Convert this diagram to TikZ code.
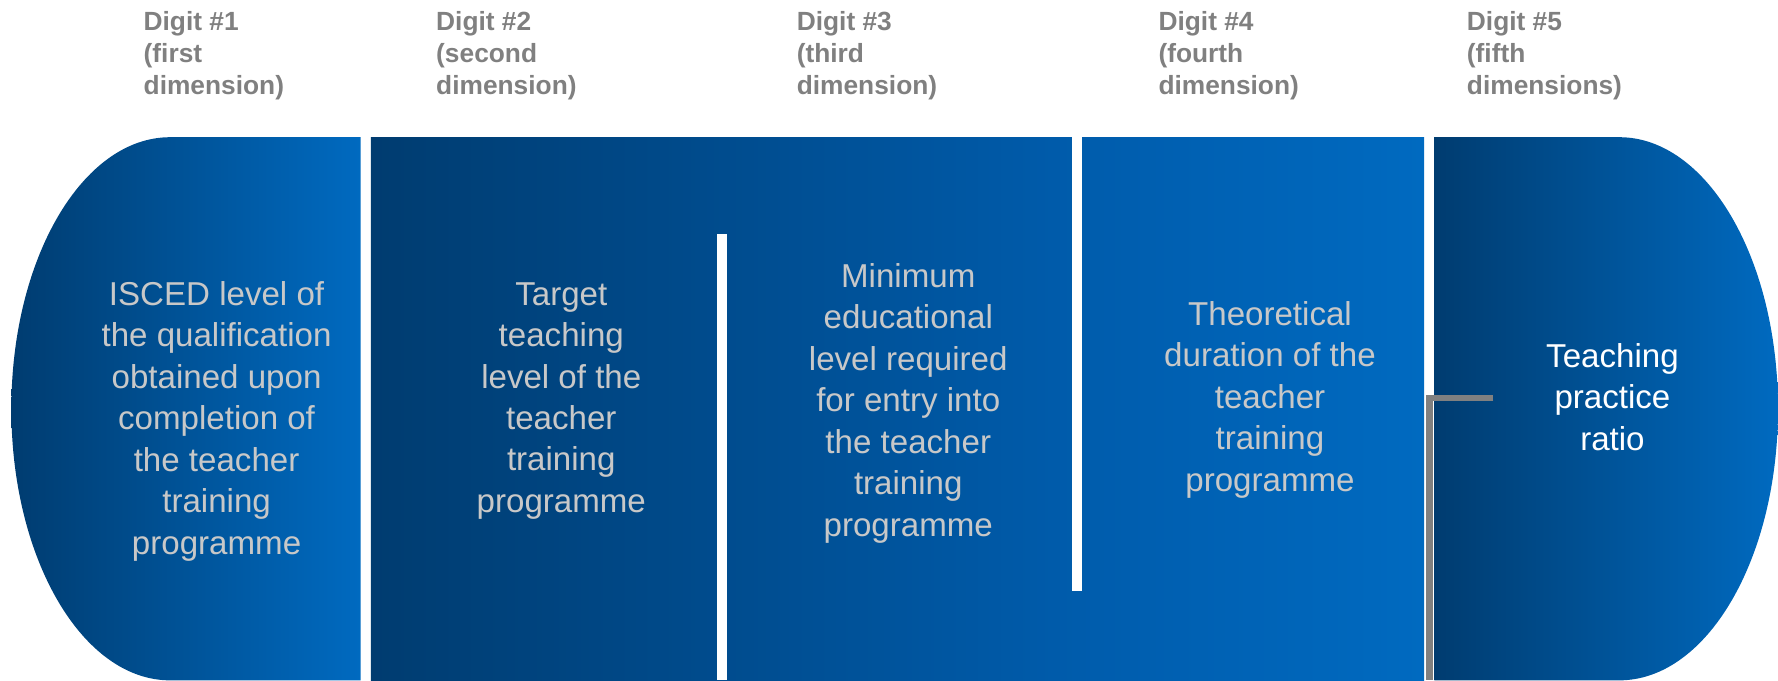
\documentclass[tikz,border=0pt]{standalone}
\usepackage{fontspec}
\setmainfont{Liberation Sans}
\usepackage{tikz}
\usetikzlibrary{positioning}
\definecolor{panelDark}{RGB}{0,60,112}
\definecolor{panelMid}{RGB}{0,92,172}
\definecolor{panelBright}{RGB}{0,106,192}
\definecolor{labelGray}{RGB}{128,128,128}
\definecolor{textGray}{RGB}{200,200,200}
\tikzset{
    digit label/.style={anchor=west, inner sep=0pt, align=left, text=labelGray,
        font=\fontsize{6.6}{8.1}\selectfont\bfseries}, % 定义上方标题的样式
    panel text/.style={align=center, inner sep=0pt, text=textGray,
        font=\fontsize{8.3}{10.4}\selectfont}, % 定义面板文字的样式
    gap bar/.style={fill=white} % 定义白色分隔条
}

\begin{document}
\begin{tikzpicture}[x=0.01cm, y=0.01cm]
          \useasboundingbox (0,0) rectangle (1568,600);

          % --- 1. 两端的半椭圆面板 ---
          \shade[left color=panelDark, right color=panelBright]
              (318,479) -- (150,479)
              arc[start angle=90, end angle=270, x radius=140, y radius=239.5]
              -- (318,0) -- cycle;
          \shade[left color=panelDark, right color=panelBright]
              (1265,479) -- (1428,479)
              arc[start angle=90, end angle=-90, x radius=140, y radius=239.5]
              -- (1265,0) -- cycle;

          % --- 2. 中间相连的面板, 用白条隔开 ---
          \shade[left color=panelDark, right color=panelMid] (327,0) rectangle (950,479);
          \shade[left color=panelMid, right color=panelBright] (950,0) rectangle (1256,479);
          \fill[gap bar] (632,0) rectangle (641,394);
          \fill[gap bar] (945,79) rectangle (954,479);

          % --- 3. 灰色折线 ---
          \coordinate (brkTip) at (1317,249);
          \coordinate (brkFoot) at (1261,0);
          \draw[labelGray, line width=1.7pt] (brkTip) -| (brkFoot);

          % --- 4. 上方标题, 循环格式: \x / \num / \word / \tail ---
          \foreach \x / \num / \word / \tail in {
              126/1/first/{dimension},
              384/2/second/{dimension},
              702/3/third/{dimension},
              1021/4/fourth/{dimension},
              1293/5/fifth/{dimensions}%
          } {
              \node[digit label] (digit\num) at (\x, 551) {Digit \#\num\\(\word\\\tail)};
          }

          % --- 5. 面板里的文字 ---
          \node[panel text] (isced) at (191,228.5) {ISCED level of\\the qualification\\obtained upon\\completion of\\the teacher\\training\\programme};
          \node[panel text] (target) at (495,246.5) {Target\\teaching\\level of the\\teacher\\training\\programme};
          \node[panel text] (minimum) at (801,244.5) {Minimum\\educational\\level required\\for entry into\\the teacher\\training\\programme};
          \node[panel text] (duration) at (1120,247.5) {Theoretical\\duration of the\\teacher\\training\\programme};
          \node[panel text, text=white] (ratio) at (1422,250) {Teaching\\practice\\ratio};

      \end{tikzpicture}
\end{document}
